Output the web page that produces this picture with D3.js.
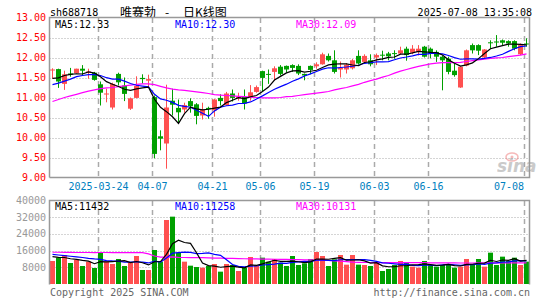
<!DOCTYPE html>
<html>
<head>
<meta charset="utf-8">
<script src="https://cdn.jsdelivr.net/npm/d3@7"></script>
<style>
body { margin: 0; background: #fff; }
text { font-family: "DejaVu Sans Mono", monospace; font-size: 10px; }
</style>
</head>
<body>
<div id="chart"></div>
<script>
// trading days shown (sh688718, daily K)
var dates = [
  "2025-03-12","2025-03-13","2025-03-14","2025-03-17","2025-03-18","2025-03-19","2025-03-20","2025-03-21","2025-03-24","2025-03-25",
  "2025-03-26","2025-03-27","2025-03-28","2025-03-31","2025-04-01","2025-04-02","2025-04-03","2025-04-07","2025-04-08","2025-04-09",
  "2025-04-10","2025-04-11","2025-04-14","2025-04-15","2025-04-16","2025-04-17","2025-04-18","2025-04-21","2025-04-22","2025-04-23",
  "2025-04-24","2025-04-25","2025-04-28","2025-04-29","2025-04-30","2025-05-06","2025-05-07","2025-05-08","2025-05-09","2025-05-12",
  "2025-05-13","2025-05-14","2025-05-15","2025-05-16","2025-05-19","2025-05-20","2025-05-21","2025-05-22","2025-05-23","2025-05-26",
  "2025-05-27","2025-05-28","2025-05-29","2025-05-30","2025-06-03","2025-06-04","2025-06-05","2025-06-06","2025-06-09","2025-06-10",
  "2025-06-11","2025-06-12","2025-06-13","2025-06-16","2025-06-17","2025-06-18","2025-06-19","2025-06-20","2025-06-23","2025-06-24",
  "2025-06-25","2025-06-26","2025-06-27","2025-06-30","2025-07-01","2025-07-02","2025-07-03","2025-07-04","2025-07-07","2025-07-08"
];

var open = [11.68,11.71,11.34,11.60,11.61,11.72,11.63,11.62,11.33,11.08, 10.75,11.59,11.30,10.72,10.99,11.49,11.42,11.01,10.03,9.85,
  10.92,10.74,10.70,10.91,10.83,10.55,10.74,10.68,10.99,10.81, 11.10,10.98,11.01,11.00,11.14,11.66,11.59,11.64,11.77,11.79,
  11.81,11.79,11.59,11.79,11.78,11.83,12.04,11.93,11.70,11.70, 11.73,12.04,11.89,11.93,12.00,12.07,12.10,12.11,12.10,12.22,
  12.12,12.14,12.27,12.22,12.14,12.02,11.97,11.67,11.25,11.80, 12.31,12.31,12.00,12.38,12.40,12.43,12.41,12.41,12.08,12.35];
var high = [11.73,11.72,11.67,11.74,11.72,11.81,11.72,11.64,11.40,11.22, 11.37,11.62,11.50,11.00,11.53,11.58,11.57,11.05,10.18,11.32,
  11.22,10.95,10.87,10.98,10.86,10.87,10.77,10.96,11.08,11.14, 11.20,11.12,11.20,11.31,11.30,11.67,11.70,11.78,11.81,11.80,
  11.83,11.83,11.60,11.80,11.88,12.12,12.10,12.18,11.90,11.86, 11.96,12.18,12.08,12.08,12.10,12.17,12.14,12.18,12.27,12.27,
  12.31,12.31,12.29,12.25,12.18,12.05,12.02,11.85,11.78,12.20, 12.35,12.33,12.21,12.43,12.56,12.45,12.43,12.43,12.35,12.48];
var low = [11.47,11.24,11.19,11.52,11.60,11.56,11.47,11.42,10.80,10.88, 10.70,11.30,10.91,10.69,10.98,11.35,11.26,9.48,9.68,9.22,
  10.55,10.38,10.62,10.62,10.33,10.45,10.47,10.52,10.80,10.79, 10.90,10.92,10.70,10.92,11.12,11.15,11.34,11.43,11.55,11.62,
  11.64,11.56,11.43,11.58,11.72,11.82,11.90,11.60,11.50,11.60, 11.70,11.82,11.88,11.78,11.81,11.93,11.93,11.97,12.08,11.92,
  12.08,12.05,12.00,11.98,11.89,11.18,11.58,11.52,11.24,11.78, 12.10,12.06,11.98,12.22,12.27,12.30,12.27,12.18,12.06,12.27];
var close = [11.70,11.40,11.58,11.57,11.72,11.67,11.65,11.44,11.12,11.10, 11.34,11.38,11.09,10.98,11.29,11.46,11.46,9.59,9.97,10.75,
  10.82,10.63,10.81,10.78,10.54,10.69,10.71,10.95,10.91,11.10, 10.99,11.02,10.85,11.13,11.26,11.49,11.57,11.73,11.59,11.70,
  11.74,11.60,11.55,11.69,11.83,12.08,11.93,11.64,11.74,11.82, 11.93,11.85,12.04,11.83,12.06,12.05,12.03,12.09,12.18,12.06,
  12.22,12.22,12.02,12.12,12.02,11.93,11.64,11.56,11.77,12.18, 12.18,12.17,12.20,12.36,12.38,12.37,12.35,12.22,12.31,12.33];

var volume = [11020,12620,13890,10060,11500,8620,10700,7670,15170,10700, 9580,11980,8620,10220,13410,6710,6710,16290,10700,30660,
  32260,15000,10700,8780,8140,7830,8620,9580,5910,9580, 9100,6230,7830,12940,8620,12620,10700,11980,10220,8620,
  13410,9100,9900,11980,15330,13410,8620,11820,13890,9260, 13890,9260,9100,8620,10220,6230,7190,9100,11020,10220,
  8300,7830,11020,9100,8300,9100,9580,7830,8300,11980, 9580,11980,8300,15010,9100,13100,11020,12620,9100,10700];

// moving averages: the first days depend on sessions before the window
var ma5Head = [11.48,11.49,11.55,11.58];
var ma10Head = [11.32,11.36,11.41,11.46,11.52,11.55,11.57,11.57,11.55];
var ma30 = [10.90,10.95,11.00,11.04,11.08,11.12,11.16,11.19,11.22,11.24, 11.25,11.27,11.29,11.31,11.33,11.34,11.34,11.32,11.28,11.24,
  11.21,11.19,11.18,11.16,11.14,11.12,11.10,11.07,11.06,11.05, 11.04,11.03,11.02,11.01,11.00,10.99,10.99,10.99,11.00,11.02,
  11.03,11.05,11.07,11.09,11.11,11.13,11.15,11.19,11.22,11.25, 11.29,11.33,11.38,11.42,11.46,11.51,11.55,11.61,11.66,11.70,
  11.74,11.78,11.81,11.84,11.86,11.87,11.87,11.87,11.88,11.90, 11.92,11.94,11.96,11.98,11.99,12.00,12.02,12.04,12.06,12.09];
var vma5Head = [13100,12800,12700,12100];
var vma10Head = [14200,13900,13600,13300,13000,12700,12300,12000,11800];
var vma30 = [15200,15200,15150,15150,15100,15100,15100,15050,15100,15100, 15050,15050,15000,15000,15000,15000,14400,13400,12900,12900,
  13000,12800,12700,12650,12600,12600,12550,12400,12350,12300, 12250,12200,12100,12050,12000,11950,11900,11850,11800,11750,
  11700,11650,11600,11550,11500,11450,11300,11100,10900,10700, 10500,10400,10300,10300,10250,10250,10200,10200,10200,10250,
  10250,10200,10200,10150,10150,10100,10100,10100,10050,10050, 10050,10100,10100,10100,10150,10150,10150,10100,10100,10131];

var tickDates = ["2025-03-24","2025-04-07","2025-04-21","2025-05-06","2025-05-19","2025-06-03","2025-06-16","2025-07-08"];
var tickLabels = ["2025-03-24","04-07","04-21","05-06","05-19","06-03","06-16","07-08"];
var priceTicks = [13, 12.5, 12, 11.5, 11, 10.5, 10, 9.5, 9];
var volTicks = [40000, 32000, 24000, 16000, 8000];
var legendPrice = ["MA5:12.33", "MA10:12.30", "MA30:12.09"];
var legendVol = ["MA5:11432", "MA10:11258", "MA30:10131"];

function movingAvg(values, n, head) {
  return values.map(function(v, i) {
    if (i < n - 1) return head[i];
    return d3.mean(values.slice(i - n + 1, i + 1));
  });
}
var ma5 = movingAvg(close, 5, ma5Head);
var ma10 = movingAvg(close, 10, ma10Head);
var vma5 = movingAvg(volume, 5, vma5Head);
var vma10 = movingAvg(volume, 10, vma10Head);

var width = 545, height = 300;
var left = 49.5, right = 529.5;
var red = "#ff5050", green = "#00a000";
var maColors = ["#000000", "#0000ff", "#ff00ff"];

var svg = d3.select("#chart").append("svg")
    .attr("width", width).attr("height", height);

var x = d3.scaleBand().domain(dates).range([left, right]);
var cx = function(d) { return x(d) + 3; };
var y = d3.scaleLinear().domain([9, 13]).range([177.5, 17.5]);
var yv = d3.scaleLinear().domain([0, 40000]).range([284, 200.5]);

// header
svg.append("text").attr("x", 50).attr("y", 16).attr("fill", "#000").text("sh688718");
var title = svg.append("g")
    .style("font-family", "'Noto Sans CJK SC', sans-serif").style("font-size", "12px");
title.append("text").attr("x", 120).attr("y", 16.5).style("font-size", "12px").text("唯赛勃");
title.append("text").attr("x", 165).attr("y", 16.5).style("font-size", "12px").text("-");
title.append("text").attr("x", 183).attr("y", 16.5).style("font-size", "12px").text("日K线图");
title.selectAll("text").style("font-family", "'Noto Sans CJK SC', sans-serif");
svg.append("text").attr("x", 532).attr("y", 16).attr("text-anchor", "end").attr("fill", "#000")
    .text("2025-07-08 13:35:08");

// grid lines, both panels
function grid(yScale, ticks, y0, y1) {
  svg.append("g").selectAll("line").data(ticks.slice(1)).enter().append("line")
      .attr("x1", left).attr("x2", right)
      .attr("y1", function(d) { return Math.round(yScale(d)) + 0.5; })
      .attr("y2", function(d) { return Math.round(yScale(d)) + 0.5; })
      .attr("stroke", "#aaa").attr("stroke-dasharray", "1,2");
  svg.append("g").selectAll("line").data(tickDates).enter().append("line")
      .attr("x1", function(d) { return Math.round(x(d)) + 0.5; })
      .attr("x2", function(d) { return Math.round(x(d)) + 0.5; })
      .attr("y1", y0).attr("y2", y1)
      .attr("stroke", "#aaa").attr("stroke-width", 1.5).attr("stroke-dasharray", "5,4");
}
grid(y, priceTicks.slice(0, -1), 18, 177);
grid(yv, volTicks, 201, 284);

// y axis labels
svg.append("g").selectAll("text").data(priceTicks).enter().append("text")
    .attr("x", 46).attr("y", function(d) { return y(d) + 3.5; })
    .attr("text-anchor", "end").attr("fill", "#ff0000")
    .text(d3.format(".2f"));
svg.append("g").selectAll("text").data(volTicks).enter().append("text")
    .attr("x", 46).attr("y", function(d) { return yv(d) + 3.5; })
    .attr("text-anchor", "end").attr("fill", "#999")
    .text(function(d) { return d; });

// x axis labels
svg.append("g").selectAll("text").data(tickDates).enter().append("text")
    .attr("x", function(d, i) { return i == tickDates.length - 1 ? x(d) + 0.5 : Math.round(x(d)) + 0.5; })
    .attr("y", 190)
    .attr("text-anchor", function(d, i) { return i == tickDates.length - 1 ? "end" : "middle"; })
    .attr("fill", "#0080c0")
    .text(function(d, i) { return tickLabels[i]; });

// sina watermark
var wm = svg.append("g").attr("opacity", 0.55);
wm.append("ellipse").attr("cx", 512).attr("cy", 157).attr("rx", 6).attr("ry", 4)
    .attr("fill", "none").attr("stroke", "#f08080").attr("stroke-width", 1.5);
wm.append("circle").attr("cx", 512).attr("cy", 157).attr("r", 1.5).attr("fill", "#f08080");
wm.append("text").attr("x", 497).attr("y", 172)
    .style("font-family", "'DejaVu Sans', sans-serif").style("font-size", "17px")
    .style("font-style", "italic").style("font-weight", "bold")
    .attr("fill", "#a0a0a0").text("sina");

// candles
var candles = svg.append("g").selectAll("g").data(dates).enter().append("g");
candles.append("line")
    .attr("x1", cx).attr("x2", cx)
    .attr("y1", function(d, i) { return y(high[i]); })
    .attr("y2", function(d, i) { return y(low[i]); })
    .attr("stroke", function(d, i) { return close[i] >= open[i] ? red : green; });
candles.append("rect")
    .attr("x", function(d) { return x(d) + 0.5; })
    .attr("width", 5)
    .attr("y", function(d, i) { return y(Math.max(open[i], close[i])); })
    .attr("height", function(d, i) { return Math.max(1, Math.abs(y(open[i]) - y(close[i]))); })
    .attr("fill", function(d, i) { return close[i] >= open[i] ? red : green; });

// volume bars
svg.append("g").selectAll("rect").data(dates).enter().append("rect")
    .attr("x", function(d) { return x(d) + 0.5; })
    .attr("width", 5)
    .attr("y", function(d, i) { return yv(volume[i]); })
    .attr("height", function(d, i) { return yv(0) - yv(volume[i]); })
    .attr("fill", function(d, i) { return close[i] >= open[i] ? red : green; });

// moving average lines
function maLine(series, scale, color) {
  var line = d3.line().x(function(d, i) { return cx(dates[i]); }).y(function(d) { return scale(d); });
  svg.append("path").datum(series).attr("d", line)
      .attr("fill", "none").attr("stroke", color).attr("stroke-width", 1.2);
}
maLine(ma30, y, maColors[2]);
maLine(ma10, y, maColors[1]);
maLine(ma5, y, maColors[0]);
maLine(vma30, yv, maColors[2]);
maLine(vma10, yv, maColors[1]);
maLine(vma5, yv, maColors[0]);

// frames
svg.append("path")
    .attr("d", "M" + left + ",177.5V17.5H" + right + "V177.5H" + left)
    .attr("fill", "none").attr("stroke", "#999").attr("stroke-width", 1.5);
svg.append("path")
    .attr("d", "M" + left + ",284.5V200.5H" + right + "V284.5")
    .attr("fill", "none").attr("stroke", "#999").attr("stroke-width", 1.5);

// legends
var legendX = [55, 175, 296];
svg.append("g").selectAll("text").data(legendPrice).enter().append("text")
    .attr("x", function(d, i) { return legendX[i]; }).attr("y", 28)
    .attr("fill", function(d, i) { return maColors[i]; }).text(function(d) { return d; });
svg.append("g").selectAll("text").data(legendVol).enter().append("text")
    .attr("x", function(d, i) { return legendX[i]; }).attr("y", 210)
    .attr("fill", function(d, i) { return maColors[i]; }).text(function(d) { return d; });

// footer
svg.append("text").attr("x", 50).attr("y", 296).attr("fill", "#666").text("Copyright 2025 SINA.COM");
svg.append("text").attr("x", 530).attr("y", 296).attr("text-anchor", "end").attr("fill", "#666")
    .text("http://finance.sina.com.cn");
</script>
</body>
</html>
